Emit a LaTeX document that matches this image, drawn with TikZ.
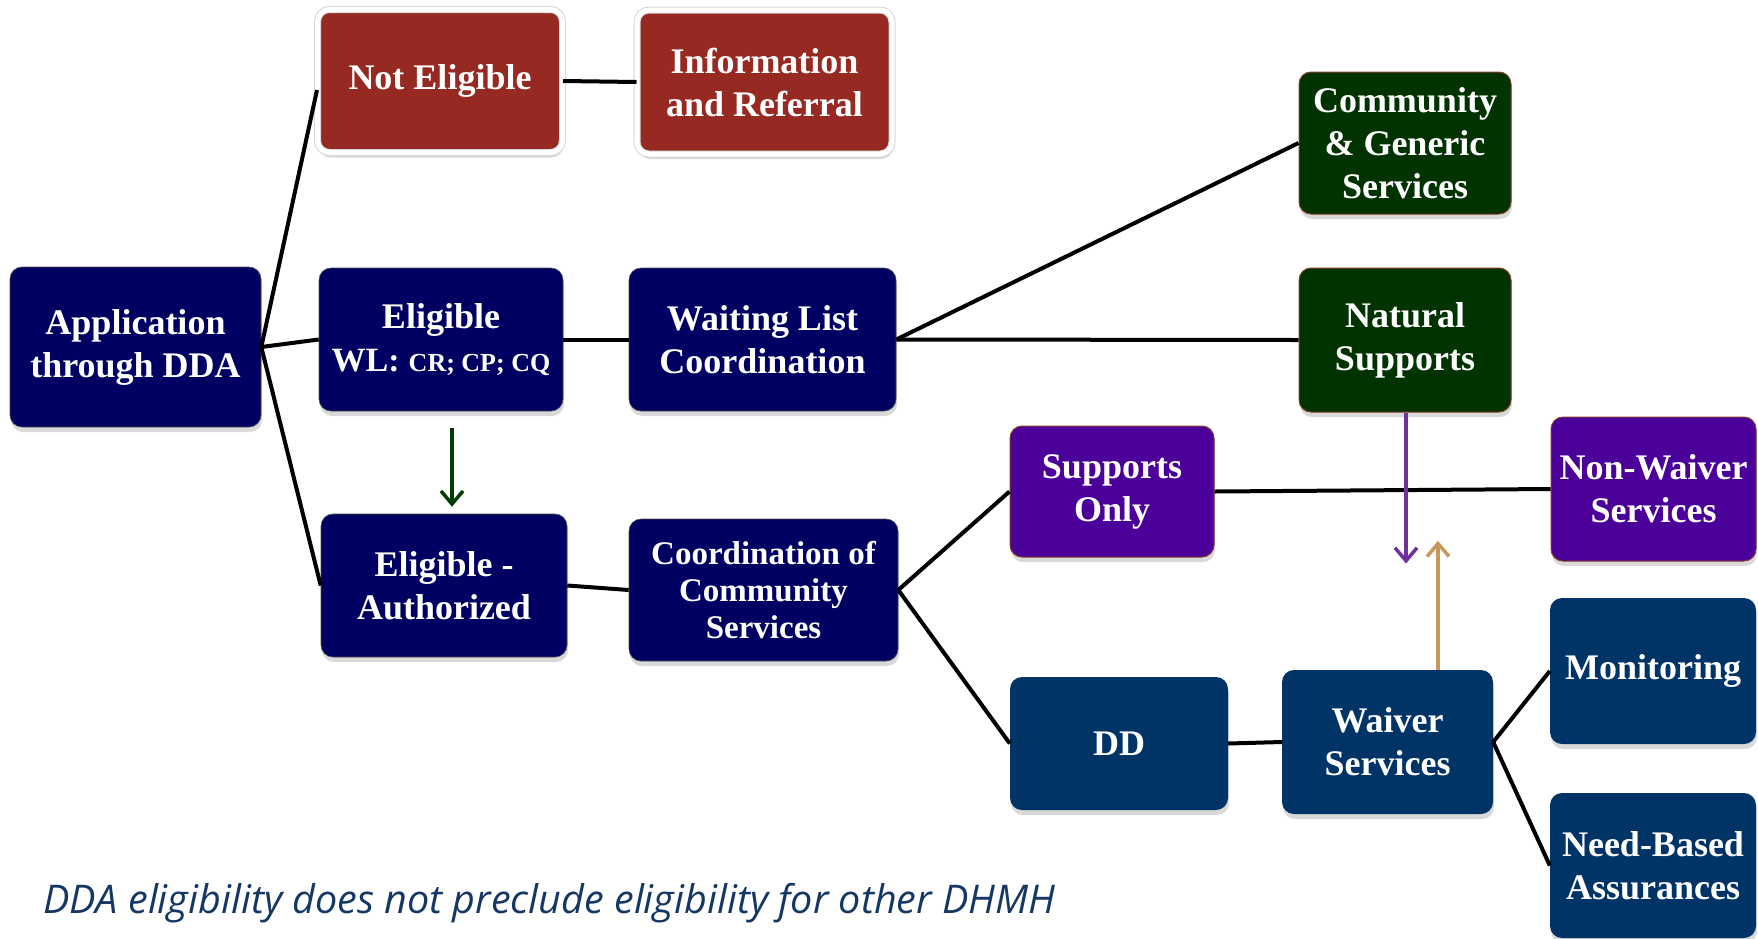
\documentclass[tikz,border=0pt]{standalone}
\usepackage{fontspec}
\setmainfont{Liberation Serif}
\newfontfamily\capfont{Open Sans}
\usetikzlibrary{shadows,calc,arrows.meta}
\definecolor{redbox}{RGB}{150,42,34}
\definecolor{navybox}{RGB}{0,0,98}
\definecolor{greenbox}{RGB}{0,51,0}
\definecolor{purplebox}{RGB}{75,0,153}
\definecolor{bluebox}{RGB}{0,51,102}
\definecolor{arrowgreen}{RGB}{0,60,0}
\definecolor{arrowpurple}{RGB}{112,48,160}
\definecolor{arrowtan}{RGB}{198,152,90}
\definecolor{captionblue}{RGB}{20,55,100}
\definecolor{edgebrown}{RGB}{130,60,40}
\definecolor{rimgrey}{RGB}{215,215,215}
\begin{document}
\begin{tikzpicture}[x=1pt,y=-1pt,
  box/.style={rounded corners=12pt, align=center, text=white, inner sep=0pt,
    font=\bfseries\fontsize{36}{43}\selectfont,
    drop shadow={shadow xshift=1pt, shadow yshift=-5pt, opacity=0.3}},
  redstyle/.style={box, fill=redbox, draw=rimgrey, double=white, double distance=5pt, line width=1pt},
  navystyle/.style={box, fill=navybox, draw=black!70, line width=0.6pt},
  greenstyle/.style={box, fill=greenbox, draw=edgebrown, line width=1pt},
  purplestyle/.style={box, fill=purplebox, draw=edgebrown, line width=1pt},
  bluestyle/.style={box, fill=bluebox},
  conn/.style={draw=black, line width=4pt},
  arr/.style={line width=3.5pt, -{Straight Barb[length=13pt,width=22pt]}}
]
\useasboundingbox (0,0) rectangle (1758,938);

\node[navystyle, minimum width=251pt, minimum height=160pt] (app) at (135.5,347) {Application\\through DDA};
\node[redstyle, minimum width=245pt, minimum height=143pt] (ne) at (440,81) {Not Eligible};
\node[redstyle, minimum width=255pt, minimum height=144pt] (ir) at (764.5,82) {Information\\and Referral};
\node[navystyle, minimum width=244pt, minimum height=143pt] (ewl) at (441,339.5) {Eligible\\{\fontsize{34}{43}\selectfont WL:} {\fontsize{26}{43}\selectfont CR; CP; CQ}};
\node[navystyle, minimum width=267pt, minimum height=143pt] (wl) at (762.5,339.5) {Waiting List\\Coordination};
\node[greenstyle, minimum width=212pt, minimum height=142pt] (cg) at (1405,143) {Community\\\& Generic\\Services};
\node[greenstyle, minimum width=212pt, minimum height=144pt] (ns) at (1405,340) {Natural\\Supports};
\node[navystyle, minimum width=246pt, minimum height=143pt] (ea) at (444,585.5) {Eligible -\\Authorized};
\node[navystyle, minimum width=269pt, minimum height=142pt, font=\bfseries\fontsize{33}{37}\selectfont] (cc) at (763.5,590) {Coordination of\\Community\\Services};
\node[purplestyle, minimum width=204pt, minimum height=131pt] (so) at (1112,491.5) {Supports\\Only};
\node[purplestyle, minimum width=205pt, minimum height=144pt] (nw) at (1653.5,489) {Non-Waiver\\Services};
\node[bluestyle, minimum width=206pt, minimum height=146pt] (mo) at (1653,671) {Monitoring};
\node[bluestyle, minimum width=206pt, minimum height=145pt] (nb) at (1653,865.5) {Need-Based\\Assurances};
\node[bluestyle, minimum width=218pt, minimum height=133pt] (dd) at (1119,743.5) {DD};
\node[bluestyle, minimum width=211pt, minimum height=144pt] (ws) at (1387.5,742) {Waiver\\Services};

\draw[conn] (app.east) -- ($(ne.west)+(0,9)$);
\draw[conn] (app.east) -- (ewl.west);
\draw[conn] (app.east) -- (ea.west);
\draw[conn] (ne.east) -- (ir.west);
\draw[conn] (ewl.east) -- (wl.west);
\draw[conn] (wl.east) -- (cg.west);
\draw[conn] (wl.east) -- (ns.west);
\draw[conn] (ea.east) -- (cc.west);
\draw[conn] (cc.east) -- (so.west);
\draw[conn] (cc.east) -- (dd.west);
\draw[conn] (so.east) -- (nw.west);
\draw[conn] (dd.east) -- (ws.west);
\draw[conn] (ws.east) -- (mo.west);
\draw[conn] (ws.east) -- (nb.west);

\draw[arr, arrowgreen] ($(ewl.south)+(11,17)$) -- ($(ea.north)+(8,-7)$);
\draw[arr, arrowpurple] ($(ns.south)+(1,0)$) -- ($(ns.south)+(1,151)$);
\draw[arr, arrowtan] ($(ws.north)+(50.5,0)$) -- ($(ws.north)+(50.5,-129)$);

\node[anchor=base west, inner sep=0pt, text=captionblue, font=\capfont\itshape\fontsize{39.5}{44}\selectfont] (cap) at (43,913) {DDA eligibility does not preclude eligibility for other DHMH};
\end{tikzpicture}
\end{document}
